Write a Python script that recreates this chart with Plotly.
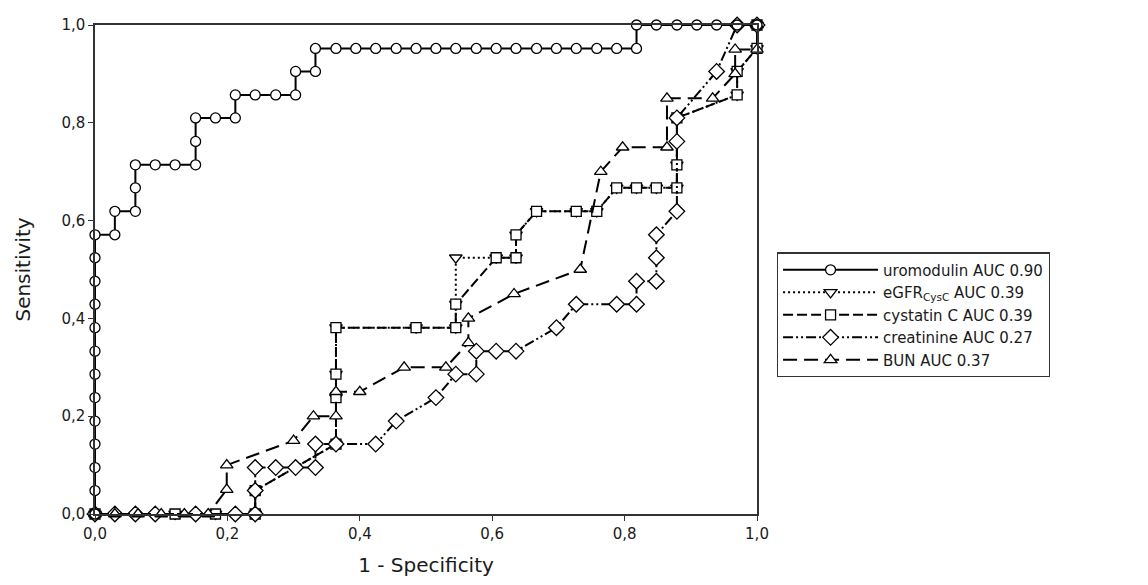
import plotly.graph_objects as go

# ROC curve points (1 - specificity, sensitivity) for each marker
uromodulin_x = [0, 0, 0, 0, 0, 0, 0, 0, 0, 0, 0, 0, 0,
                0.03, 0.03, 0.061, 0.061, 0.061, 0.091, 0.121, 0.152, 0.152, 0.152,
                0.182, 0.212, 0.212, 0.242, 0.273, 0.303, 0.303, 0.333, 0.333,
                0.364, 0.394, 0.424, 0.455, 0.485, 0.515, 0.545, 0.576, 0.606, 0.636,
                0.667, 0.697, 0.727, 0.758, 0.788, 0.818, 0.818,
                0.848, 0.879, 0.909, 0.939, 0.97, 1.0]
uromodulin_y = [0, 0.048, 0.095, 0.143, 0.19, 0.238, 0.286, 0.333, 0.381, 0.429, 0.476, 0.524, 0.571,
                0.571, 0.619, 0.619, 0.667, 0.714, 0.714, 0.714, 0.714, 0.762, 0.81,
                0.81, 0.81, 0.857, 0.857, 0.857, 0.857, 0.905, 0.905, 0.952,
                0.952, 0.952, 0.952, 0.952, 0.952, 0.952, 0.952, 0.952, 0.952, 0.952,
                0.952, 0.952, 0.952, 0.952, 0.952, 0.952, 1.0,
                1.0, 1.0, 1.0, 1.0, 1.0, 1.0]

egfr_x = [0, 0.121, 0.182, 0.242, 0.242, 0.364, 0.364, 0.364, 0.364, 0.485, 0.545, 0.545,
          0.545, 0.606, 0.636, 0.636, 0.667, 0.727, 0.758, 0.788, 0.818, 0.848, 0.879,
          0.879, 0.879, 0.97, 0.97, 1.0, 1.0]
egfr_y = [0, 0, 0, 0, 0.048, 0.143, 0.238, 0.286, 0.381, 0.381, 0.381, 0.429,
          0.524, 0.524, 0.524, 0.571, 0.619, 0.619, 0.619, 0.667, 0.667, 0.667, 0.667,
          0.714, 0.81, 0.857, 0.905, 0.952, 1.0]

cystatin_x = [0, 0.121, 0.182, 0.242, 0.242, 0.364, 0.364, 0.364, 0.364, 0.485, 0.545, 0.545,
              0.606, 0.636, 0.636, 0.667, 0.727, 0.758, 0.788, 0.818, 0.848, 0.879,
              0.879, 0.879, 0.97, 0.97, 1.0, 1.0]
cystatin_y = [0, 0, 0, 0, 0.048, 0.143, 0.238, 0.286, 0.381, 0.381, 0.381, 0.429,
              0.524, 0.524, 0.571, 0.619, 0.619, 0.619, 0.667, 0.667, 0.667, 0.667,
              0.714, 0.81, 0.857, 0.905, 0.952, 1.0]

creatinine_x = [0, 0.03, 0.061, 0.091, 0.152, 0.212, 0.242, 0.242, 0.242, 0.273, 0.303, 0.333,
                0.333, 0.364, 0.424, 0.455, 0.515, 0.545, 0.576, 0.576, 0.606, 0.636, 0.697,
                0.727, 0.788, 0.818, 0.818, 0.848, 0.848, 0.848, 0.879, 0.879, 0.879,
                0.939, 0.97, 1.0]
creatinine_y = [0, 0, 0, 0, 0, 0, 0, 0.048, 0.095, 0.095, 0.095, 0.095,
                0.143, 0.143, 0.143, 0.19, 0.238, 0.286, 0.286, 0.333, 0.333, 0.333, 0.381,
                0.429, 0.429, 0.429, 0.476, 0.476, 0.524, 0.571, 0.619, 0.762, 0.81,
                0.905, 1.0, 1.0]

bun_x = [0, 0.03, 0.065, 0.1, 0.135, 0.171, 0.199, 0.199, 0.3, 0.33, 0.364, 0.364,
         0.4, 0.467, 0.53, 0.564, 0.564, 0.633, 0.733, 0.764, 0.797, 0.864, 0.864,
         0.933, 0.967, 0.967, 1.0, 1.0]
bun_y = [0, 0, 0, 0, 0, 0, 0.05, 0.1, 0.15, 0.2, 0.2, 0.25,
         0.25, 0.3, 0.3, 0.35, 0.4, 0.45, 0.5, 0.7, 0.75, 0.75, 0.85,
         0.85, 0.9, 0.95, 0.95, 1.0]

names = ["uromodulin AUC 0.90", "eGFR<sub>CysC</sub> AUC 0.39", "cystatin C AUC 0.39",
         "creatinine AUC 0.27", "BUN AUC 0.37"]

FONT = "DejaVu Sans, Arial, sans-serif"
INK = "#1a1a1a"


def marker(symbol, size):
    return dict(symbol=symbol, size=size, color="white",
                line=dict(color="black", width=1.3))


fig = go.Figure()

fig.add_trace(go.Scatter(x=egfr_x, y=egfr_y, name=names[1], legendrank=2,
                         mode="lines+markers", cliponaxis=False,
                         line=dict(color="black", width=2, dash="2px,3px"),
                         marker=marker("triangle-down", 11)))
fig.add_trace(go.Scatter(x=cystatin_x, y=cystatin_y, name=names[2], legendrank=3,
                         mode="lines+markers", cliponaxis=False,
                         line=dict(color="black", width=2, dash="10px,4px"),
                         marker=marker("square", 10)))
fig.add_trace(go.Scatter(x=creatinine_x, y=creatinine_y, name=names[3], legendrank=4,
                         mode="lines+markers", cliponaxis=False,
                         line=dict(color="black", width=2, dash="10px,3px,2px,3px,2px,3px"),
                         marker=marker("diamond", 12)))
fig.add_trace(go.Scatter(x=bun_x, y=bun_y, name=names[4], legendrank=5,
                         mode="lines+markers", cliponaxis=False,
                         line=dict(color="black", width=2, dash="14px,7px"),
                         marker=marker("triangle-up", 11)))
fig.add_trace(go.Scatter(x=uromodulin_x, y=uromodulin_y, name=names[0], legendrank=1,
                         mode="lines+markers", cliponaxis=False,
                         line=dict(color="black", width=2),
                         marker=marker("circle", 10)))

axis_common = dict(
    range=[0, 1], dtick=0.2, tick0=0, tickformat=".1f",
    showgrid=False, zeroline=False,
    showline=True, linecolor="#333", linewidth=1.5, mirror=True,
    ticks="outside", ticklen=5, tickcolor="#333", tickwidth=1.2,
    tickfont=dict(family=FONT, size=15, color=INK),
)

fig.update_xaxes(**axis_common,
                 title=dict(text="1 - Specificity", font=dict(family=FONT, size=20, color=INK),
                            standoff=16))
fig.update_yaxes(**axis_common,
                 title=dict(text="Sensitivity", font=dict(family=FONT, size=20, color=INK),
                            standoff=25))

fig.update_layout(
    width=1148, height=585,
    margin=dict(l=95, r=391, t=25, b=69),
    paper_bgcolor="white", plot_bgcolor="white",
    separators=",.",
    showlegend=True,
    legend=dict(x=1.03, y=0.535, xanchor="left", yanchor="top",
                bordercolor="#333", borderwidth=1.2, bgcolor="white",
                font=dict(family=FONT, size=15, color=INK),
                itemwidth=95, tracegroupgap=0),
)

fig.write_html("out.html")
